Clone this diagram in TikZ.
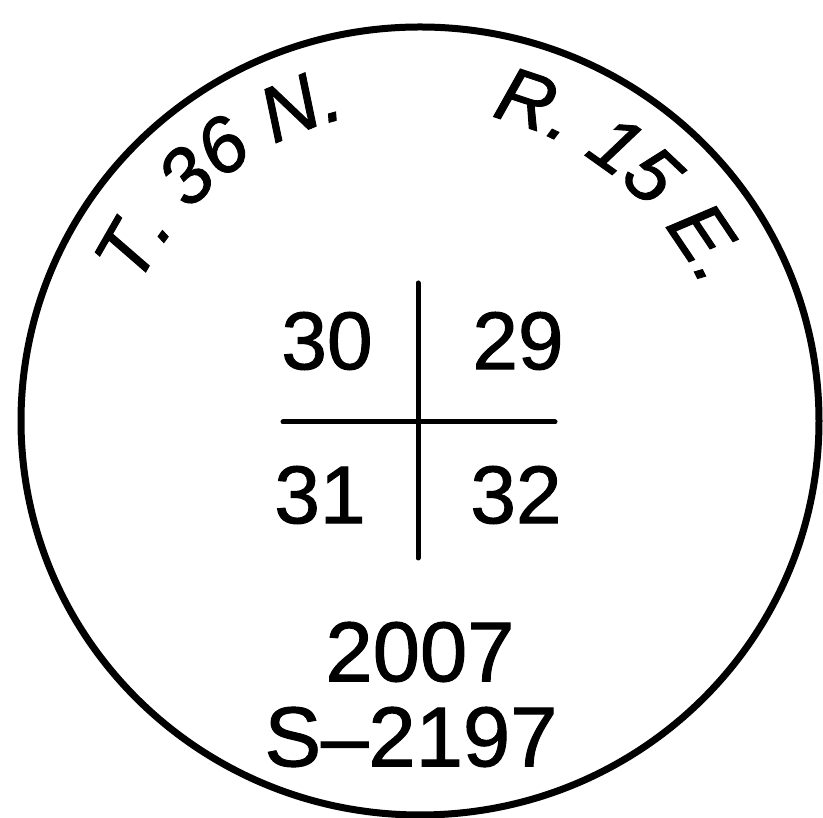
\documentclass[tikz,border=0pt]{standalone}
\usepackage{fontspec}
\setmainfont{Liberation Sans}[FakeBold=1.2]
\usetikzlibrary{decorations.text}
\tikzset{
  rim/.style={line width=7pt},
  crossline/.style={line width=5pt, line cap=round},
  num/.style={inner sep=0pt, font=\fontsize{82}{84}\selectfont},
  bignum/.style={inner sep=0pt, font=\fontsize{85}{87}\selectfont},
}
\newcommand{\arcfont}{\fontsize{78}{80}\selectfont\itshape}
\begin{document}
\begin{tikzpicture}[x=1pt,y=1pt]
\useasboundingbox (0,0) rectangle (823,818);
\coordinate (c) at (420,397);
\draw[rim] (c) ellipse [x radius=399, y radius=394];
% curved texts
\path[decoration={text along path, text={|\arcfont|T. 36 N.}, text align=center}, decorate]
  (c) ++(169:312) arc[start angle=169, end angle=89, radius=312];
\path[decoration={text along path, text={|\arcfont|R. 15 E.}, text align=center}, decorate]
  (c) ++(91:312) arc[start angle=91, end angle=11, radius=312];
% cross
\coordinate (vt) at (418,535);
\coordinate (vb) at (418,260);
\coordinate (hl) at (283,396);
\coordinate (hr) at (555,396);
\draw[crossline] (vt) -- (vb);
\draw[crossline] (hl) -- (hr);
\node[num] (n30) at (327,477) {30};
\node[num] (n29) at (518,477) {29};
\node[num] (n31) at (320,323) {31};
\node[num] (n32) at (516,323) {32};
\node[bignum] (yr) at (420,166) {2007};
\node[bignum] (sn) at (411,81) {S–2197};
\end{tikzpicture}
\end{document}
